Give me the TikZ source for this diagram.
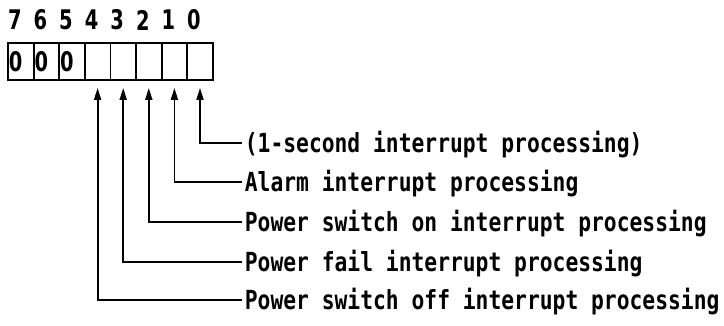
\documentclass[tikz,border=0pt]{standalone}
\usepackage{fontspec}
\newfontfamily\regfont{DejaVu Sans Mono}[FakeStretch=0.81]
\newfontfamily\numfont{DejaVu Sans}[FakeStretch=0.72]
\usetikzlibrary{arrows.meta,positioning}

\begin{document}
\begin{tikzpicture}[x=1pt,y=-1pt,line width=1.8pt,
  every node/.style={font=\regfont\bfseries\fontsize{26.3}{28}\selectfont},
  digit/.style={font=\numfont\bfseries\fontsize{27}{28}\selectfont},
  bitcell/.style={draw,minimum width=25.6pt,minimum height=37pt,inner sep=0pt},
  desc/.style={anchor=west,inner xsep=2pt,inner ysep=0pt,text height=19.2pt,text depth=0pt},
  tip/.style={-{Triangle[length=12pt,width=7pt]},shorten >=7pt}]
\useasboundingbox (0,0) rectangle (724,326);
\foreach \b in {0,...,7} {
  \node[bitcell] (b\b) at ({20.8+(7-\b)*25.6},61.5) {};
  \node[digit] (n\b) at ({14.8+(7-\b)*25.6},20) {\b};
}
\foreach \b in {5,6,7}
  \node[digit,anchor=west,inner sep=0pt] (z\b) at ([xshift=1pt]b\b.west) {0};
\node[desc] (t0) at (242,143) {(1-second interrupt processing)};
\node[desc] (t1) at (242,182) {Alarm interrupt processing};
\node[desc] (t2) at (242,222) {Power switch on interrupt processing};
\node[desc] (t3) at (242,262) {Power fail interrupt processing};
\node[desc] (t4) at (242,300) {Power switch off interrupt processing};
\draw[tip] (t0.west) -| (b0);
\draw[tip] (t1.west) -| (b1);
\draw[tip] (t2.west) -| (b2);
\draw[tip] (t3.west) -| (b3);
\draw[tip] (t4.west) -| (b4);
\end{tikzpicture}
\end{document}
